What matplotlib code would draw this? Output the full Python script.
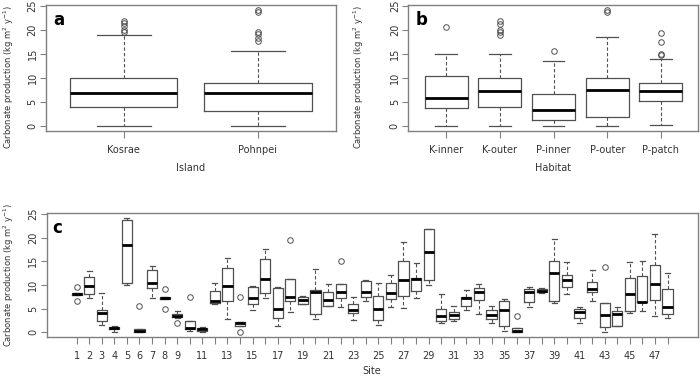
import matplotlib
matplotlib.use('Agg')
import matplotlib.pyplot as plt

# ---- panel a: island ----
islands = ['Kosrae', 'Pohnpei']
isl_wlo = [0.0, 0.0]
isl_q1 = [4.0, 3.2]
isl_med = [6.9, 6.9]
isl_q3 = [10.1, 9.0]
isl_whi = [18.9, 15.6]
isl_out = [[19.6, 20.0, 20.8, 21.4, 21.8],
           [17.7, 18.3, 19.2, 19.5, 23.7, 24.2]]

# ---- panel b: habitat ----
habitats = ['K-inner', 'K-outer', 'P-inner', 'P-outer', 'P-patch']
hab_wlo = [0.0, 0.0, 0.0, 0.0, 0.2]
hab_q1 = [3.9, 4.1, 1.4, 1.9, 5.3]
hab_med = [5.8, 7.3, 3.4, 7.5, 7.3]
hab_q3 = [10.4, 10.1, 6.7, 10.0, 9.0]
hab_whi = [15.1, 15.0, 13.6, 18.5, 14.0]
hab_out = [[20.7], [19.0, 19.6, 20.0, 21.3, 21.9], [15.6], [23.8, 24.2],
           [14.8, 15.1, 17.6, 19.4]]

# ---- panel c: site ----
sites = list(range(1, 49))
site_wlo = [7.8, 7.3, 1.6, 0.0, 10.0, 0.0, 7.2, 7.0, 3.0, 0.2,
            0.0, 6.0, 2.8, 1.4, 4.7, 7.2, 1.3, 4.3, 5.9, 2.7,
            5.6, 5.3, 2.5, 6.6, 1.5, 5.4, 5.1, 7.3, 10.0, 2.0,
            2.4, 4.7, 3.9, 2.0, 0.2, 0.0, 5.3, 8.2, 6.1, 8.0,
            2.0, 6.5, 0.0, 1.3, 4.0, 4.4, 3.5, 3.0]
site_q1 = [7.8, 8.0, 2.3, 0.6, 10.5, 0.0, 9.3, 7.0, 3.2, 0.7,
           0.3, 6.1, 6.5, 1.4, 5.9, 8.2, 3.1, 6.5, 5.9, 3.8,
           5.6, 7.2, 4.0, 7.4, 2.5, 7.0, 7.6, 8.8, 11.1, 2.3,
           2.7, 5.6, 6.8, 2.7, 1.3, 0.0, 6.3, 8.5, 6.5, 9.6,
           3.0, 8.5, 1.1, 1.3, 4.4, 6.3, 6.8, 3.8]
site_med = [8.0, 9.8, 4.0, 0.8, 18.4, 0.2, 10.5, 7.3, 3.5, 0.9,
            0.6, 6.5, 9.7, 1.9, 7.2, 11.3, 4.9, 7.4, 6.9, 8.6,
            6.9, 8.6, 4.6, 8.6, 4.9, 8.4, 11.1, 11.3, 17.0, 3.4,
            3.6, 7.2, 8.6, 3.6, 4.6, 0.3, 8.5, 8.8, 12.5, 11.1,
            4.2, 9.2, 3.7, 3.9, 8.0, 6.3, 10.1, 5.4]
site_q3 = [8.2, 11.6, 4.8, 1.1, 23.8, 0.6, 13.1, 7.5, 3.8, 2.3,
           1.0, 8.8, 13.6, 2.2, 9.6, 15.4, 9.4, 11.2, 7.4, 9.0,
           8.6, 10.2, 5.9, 10.9, 7.6, 10.5, 15.0, 11.4, 21.8, 4.9,
           4.2, 7.4, 9.3, 4.6, 6.6, 0.8, 9.1, 9.1, 15.1, 12.0,
           5.0, 10.6, 6.1, 4.4, 11.5, 11.9, 14.3, 9.1]
site_whi = [8.2, 13.0, 8.2, 1.4, 24.2, 0.6, 13.9, 7.5, 4.4, 2.3,
            1.1, 10.5, 15.6, 2.2, 9.8, 17.6, 9.5, 11.2, 7.6, 13.3,
            10.1, 10.2, 7.4, 11.1, 10.4, 12.0, 19.0, 14.6, 21.8, 8.0,
            5.6, 9.0, 10.1, 5.5, 7.1, 0.8, 9.6, 9.4, 19.7, 14.8,
            5.4, 13.1, 6.1, 5.4, 14.8, 15.1, 20.8, 12.5]
site_out = {1: [9.5, 6.6], 6: [5.6], 8: [9.2, 5.0], 9: [2.0], 10: [7.5],
            14: [7.5, 0.0], 18: [19.4], 22: [15.0], 36: [3.4], 43: [13.8]}
site_ticklabels = [str(s) if (s < 10 or s % 2 == 1) else '' for s in sites]

ylab = 'Carbonate production (kg m$^{2}$ y$^{-1}$)'
box_col = '#505050'
frame_col = '#808080'
text_col = '#333333'


def make_stats(wlo, q1, med, q3, whi, out):
    stats = []
    for i in range(len(med)):
        stats.append(dict(whislo=wlo[i], q1=q1[i], med=med[i], q3=q3[i],
                          whishi=whi[i], fliers=out[i]))
    return stats


def draw_box(ax, stats, positions, width, ms, label_x, label_y):
    ax.bxp(stats, positions=positions, widths=width, showfliers=True,
           patch_artist=False, manage_ticks=False,
           boxprops=dict(color=box_col, lw=0.9),
           whiskerprops=dict(color=box_col, lw=0.8, ls=(0, (3, 2))),
           capprops=dict(color=box_col, lw=0.9),
           medianprops=dict(color='black', lw=2.0, solid_capstyle='butt'),
           flierprops=dict(marker='o', mfc='none', mec=box_col, ms=ms, mew=0.7))
    for s in ax.spines.values():
        s.set_color(frame_col)
        s.set_linewidth(1.0)
    ax.set_ylim(-1.0, 25.2)
    ax.set_yticks([0, 5, 10, 15, 20, 25])
    ax.tick_params(axis='y', labelrotation=90, length=4, width=0.8,
                   color=frame_col, labelsize=7, labelcolor=text_col, pad=2)
    ax.tick_params(axis='x', length=5, width=0.8, color=frame_col,
                   labelsize=7, labelcolor=text_col, pad=5)
    for lab in ax.get_yticklabels():
        lab.set_va('center')
    ax.set_ylabel(ylab, fontsize=6.0, color=text_col)
    ax.yaxis.set_label_coords(label_x, label_y)


fig = plt.figure(figsize=(7.0, 3.78), dpi=100)

ax_a = fig.add_axes([0.0657, 0.653, 0.414, 0.334])
pos_a = list(range(1, len(islands) + 1))
draw_box(ax_a, make_stats(isl_wlo, isl_q1, isl_med, isl_q3, isl_whi, isl_out),
         pos_a, 0.8, 4, -0.105, 0.43)
ax_a.set_xlim(0.42, 2.58)
ax_a.set_xticks(pos_a)
ax_a.set_xticklabels(islands)
ax_a.set_xlabel('Island', fontsize=7, color=text_col, labelpad=6)
ax_a.text(0.025, 0.95, 'a', transform=ax_a.transAxes, fontsize=12,
          fontweight='bold', va='top', ha='left')

ax_b = fig.add_axes([0.583, 0.653, 0.414, 0.334])
pos_b = list(range(1, len(habitats) + 1))
draw_box(ax_b, make_stats(hab_wlo, hab_q1, hab_med, hab_q3, hab_whi, hab_out),
         pos_b, 0.8, 4, -0.145, 0.43)
ax_b.set_xlim(0.29, 5.69)
ax_b.set_xticks(pos_b)
ax_b.set_xticklabels(habitats)
ax_b.set_xlabel('Habitat', fontsize=7, color=text_col, labelpad=6)
ax_b.text(0.025, 0.95, 'b', transform=ax_b.transAxes, fontsize=12,
          fontweight='bold', va='top', ha='left')

ax_c = fig.add_axes([0.0667, 0.1085, 0.930, 0.328])
site_fl = [site_out.get(s, []) for s in sites]
draw_box(ax_c, make_stats(site_wlo, site_q1, site_med, site_q3, site_whi, site_fl),
         sites, 0.8, 4, -0.047, 0.5)
ax_c.set_xlim(-1.38, 50.4)
ax_c.set_xticks(sites)
ax_c.set_xticklabels(site_ticklabels)
ax_c.set_xlabel('Site', fontsize=7, color=text_col, labelpad=4)
ax_c.text(0.008, 0.95, 'c', transform=ax_c.transAxes, fontsize=12,
          fontweight='bold', va='top', ha='left')

fig.savefig('out.png', dpi=100)
